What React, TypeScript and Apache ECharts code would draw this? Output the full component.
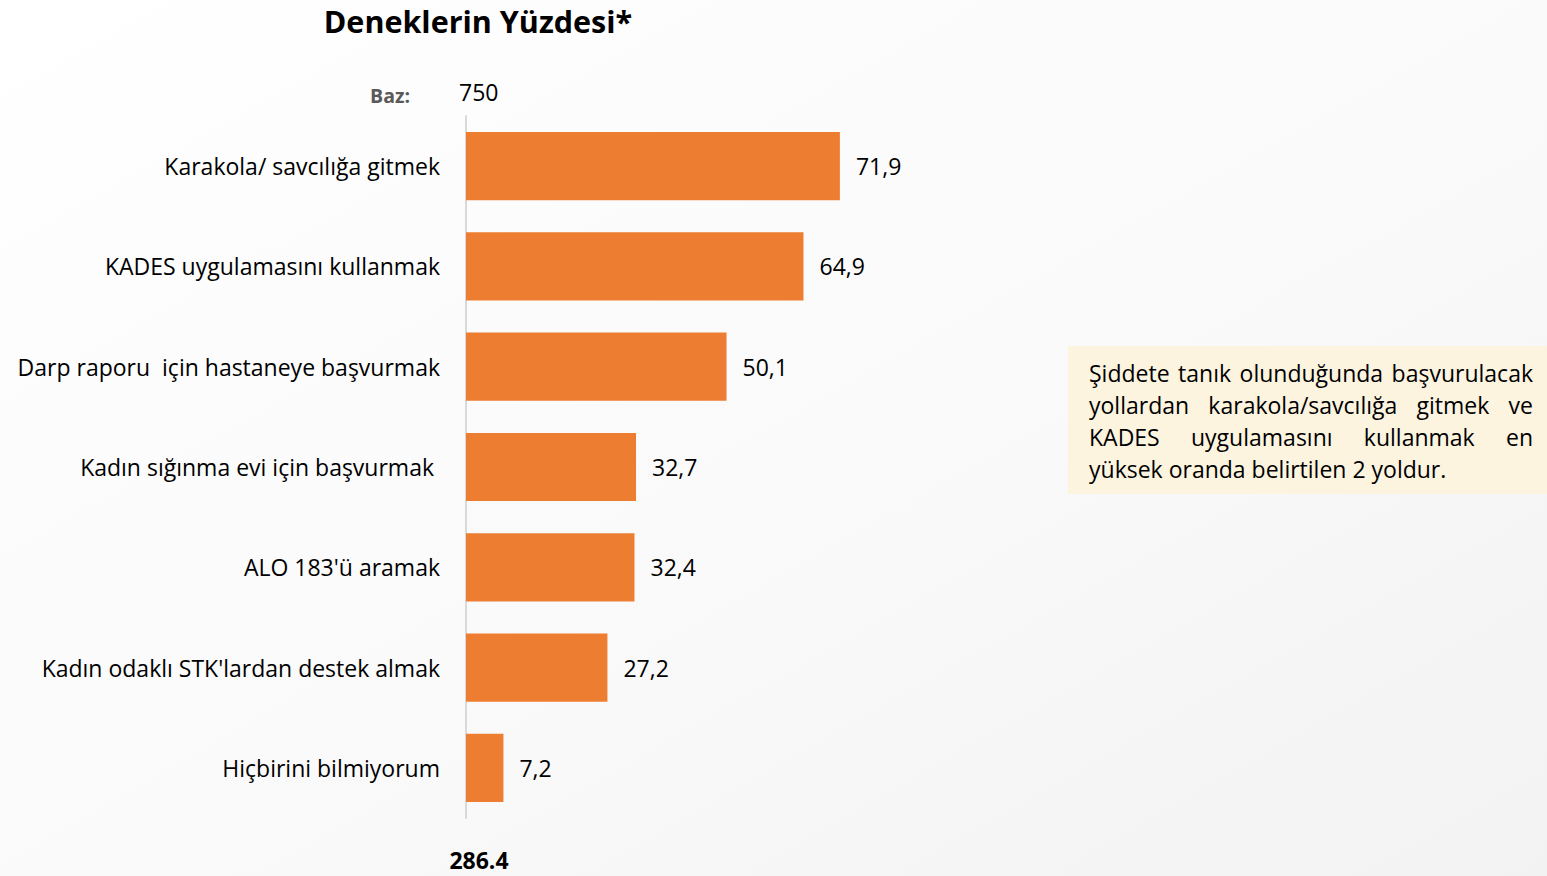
import React, { useEffect, useRef } from "react";
import * as echarts from "echarts";

const categories = [
  "Karakola/ savcılığa gitmek",
  "KADES uygulamasını kullanmak",
  "Darp raporu  için hastaneye başvurmak",
  "Kadın sığınma evi için başvurmak ",
  "ALO 183'ü aramak",
  "Kadın odaklı STK'lardan destek almak",
  "Hiçbirini bilmiyorum",
];
const values = [71.9, 64.9, 50.1, 32.7, 32.4, 27.2, 7.2];
const titleText = "Deneklerin Yüzdesi*";
const baseLabel = "Baz:";
const baseValue = "750";
const totalValue = "286.4";
const noteLines = [
  ["Şiddete", "tanık", "olunduğunda", "başvurulacak"],
  ["yollardan", "karakola/savcılığa", "gitmek", "ve"],
  ["KADES", "uygulamasını", "kullanmak", "en"],
  ["yüksek oranda belirtilen 2 yoldur."],
];

const FONT = "'Open Sans', sans-serif";
const NOTE_FONT = `23px ${FONT}`;

function measure(text: string, font: string): number {
  const c = document.createElement("canvas").getContext("2d")!;
  c.font = font;
  return c.measureText(text).width;
}

export default function App() {
  const ref = useRef<HTMLDivElement>(null);
  useEffect(() => {
    document.body.style.margin = "0";
    const chart = echarts.init(ref.current!, undefined, { renderer: "svg" });

    const boxLeft = 1089;
    const boxRight = 1533;
    const noteEls: any[] = [];
    noteLines.forEach((words, li) => {
      const y = 373 + li * 32;
      const justify = li < noteLines.length - 1 && words.length > 1;
      if (!justify) {
        noteEls.push({
          type: "text",
          x: boxLeft,
          y,
          style: { text: words.join(" "), fill: "#000", font: NOTE_FONT, textAlign: "left", textVerticalAlign: "middle" },
        });
        return;
      }
      const widths = words.map((w) => measure(w, NOTE_FONT));
      const total = widths.reduce((a, b) => a + b, 0);
      const gap = (boxRight - boxLeft - total) / (words.length - 1);
      let x = boxLeft;
      words.forEach((w, wi) => {
        noteEls.push({
          type: "text",
          x,
          y,
          style: { text: w, fill: "#000", font: NOTE_FONT, textAlign: "left", textVerticalAlign: "middle" },
        });
        x += widths[wi] + gap;
      });
    });

    chart.setOption({
      animation: false,
      backgroundColor: new echarts.graphic.LinearGradient(0, 0, 1, 1, [
        { offset: 0, color: "#ffffff" },
        { offset: 0.6, color: "#f9f9f9" },
        { offset: 1, color: "#f2f2f2" },
      ]),
      grid: { left: 466, right: 561, top: 116, bottom: 58, containLabel: false },
      xAxis: { type: "value", min: 0, max: 100, show: false },
      yAxis: {
        type: "category",
        data: categories,
        inverse: true,
        axisTick: { show: false },
        axisLine: { lineStyle: { color: "#d9d9d9", width: 2 } },
        axisLabel: { margin: 26, fontSize: 23, fontFamily: FONT, color: "#000" },
      },
      series: [
        {
          type: "bar",
          data: values,
          barCategoryGap: "32%",
          itemStyle: { color: "#ED7D31" },
          label: {
            show: true,
            position: "right",
            distance: 16,
            fontSize: 23,
            fontFamily: FONT,
            color: "#000",
            formatter: (p: any) => String(p.value).replace(".", ","),
          },
        },
      ],
      graphic: [
        {
          type: "text",
          x: 478,
          y: 21,
          style: {
            text: titleText,
            font: `bold 30.5px ${FONT}`,
            fill: "#000",
            textAlign: "center",
            textVerticalAlign: "middle",
          },
        },
        {
          type: "text",
          x: 410,
          y: 95,
          style: {
            text: baseLabel,
            font: `bold 19.5px ${FONT}`,
            fill: "#595959",
            textAlign: "right",
            textVerticalAlign: "middle",
          },
        },
        {
          type: "text",
          x: 459,
          y: 92,
          style: {
            text: baseValue,
            font: `23px ${FONT}`,
            fill: "#000",
            textAlign: "left",
            textVerticalAlign: "middle",
          },
        },
        {
          type: "text",
          x: 479,
          y: 860,
          style: {
            text: totalValue,
            font: `bold 23px ${FONT}`,
            fill: "#000",
            textAlign: "center",
            textVerticalAlign: "middle",
          },
        },
        {
          type: "rect",
          shape: { x: 1068, y: 346, width: 479, height: 148 },
          style: { fill: "#fdf4e0" },
          z: 0,
        },
        ...noteEls,
      ],
    });
    return () => chart.dispose();
  }, []);
  return <div ref={ref} style={{ width: 1547, height: 876 }} />;
}
